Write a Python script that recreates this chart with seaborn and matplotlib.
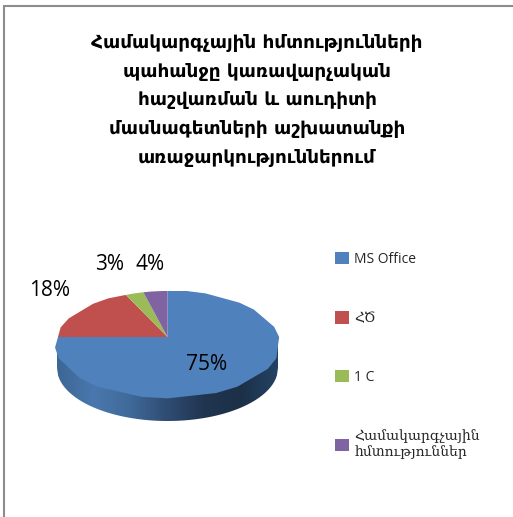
import numpy as np
import matplotlib
matplotlib.use('Agg')
import matplotlib.pyplot as plt
from matplotlib.lines import Line2D
from matplotlib.patches import Patch, Polygon
import seaborn as sns

# chart data
title_lines = ['Համակարգչային հմտությունների', 'պահանջը կառավարչական', 'հաշվառման և աուդիտի',
               'մասնագետների աշխատանքի', 'առաջարկություններում']
categories = ['MS Office', 'ՀԾ', '1 C', 'Համակարգչային\nհմտություններ']
shares = [75, 18, 3, 4]
colors = ['#4f81bd', '#c0504d', '#9bbb59', '#8064a2']
rim_colors = ['#3c6694', '#4a78ae', '#3f6998', '#2f4c72', '#20354f', '#1c3048', '#234264']

# pie geometry in pixels
CX, RX = 167.5, 110.5
APEX_Y, UP, DOWN = 337, 46, 60
DEPTH = 24

sns.set_theme(style='white')
plt.rcParams['font.family'] = ['Open Sans', 'DejaVu Sans']

fig = plt.figure(figsize=(5.13, 5.17), dpi=100)
ax = fig.add_axes([0, 0, 1, 1])

# pie gives the wedge shapes, they get tilted afterwards
palette = sns.color_palette(colors)
wedges, _ = ax.pie(shares, colors=palette, startangle=90, counterclock=False)

k = (DOWN - UP) / (DOWN + UP)
a = UP * (1 + k)
scale_x = RX * np.sqrt(1 - k ** 2)


def tilt(u, v):
    w = 1 + k * v
    return CX + scale_x * u / w, APEX_Y - a * v / w


for wedge in wedges:
    verts = wedge.get_patch_transform().transform_path(wedge.get_path()).interpolated(10).vertices
    x, y = tilt(verts[:, 0], verts[:, 1])
    wedge.set_visible(False)
    ax.add_patch(Polygon(np.column_stack([x, y]), closed=True, fc=wedge.get_facecolor(), ec='none', zorder=3))

# side wall of the pie
ell_y = APEX_Y + (DOWN - UP) / 2
ell_b = (UP + DOWN) / 2
t = np.linspace(-1, 1, 200)
front = ell_y + ell_b * np.sqrt(1 - t ** 2)
rim_xy = np.column_stack([np.r_[CX + RX * t, CX + RX * t[::-1]],
                          np.r_[front - 4, (front + DEPTH)[::-1]]])
rim_cmap = sns.blend_palette(rim_colors, as_cmap=True)
img = ax.imshow(np.linspace(0, 1, 256).reshape(1, -1), cmap=rim_cmap, aspect='auto', zorder=2,
                extent=[CX - RX, CX + RX, ell_y + ell_b + DEPTH, ell_y - 10])
clip = Polygon(rim_xy, closed=True, transform=ax.transData)
img.set_clip_path(clip)

ax.set_xlim(0, 513)
ax.set_ylim(517, 0)
ax.set_aspect('auto')
ax.axis('off')

# title
for i, line in enumerate(title_lines):
    ax.text(257, 43 + i * 28.7, line, ha='center', va='center', fontsize=13.2, fontweight='bold',
            family='DejaVu Sans', color='black')

# percent labels
label_pos = [(207, 364), (50, 290), (110, 264), (150, 264)]
for share, pos in zip(shares, label_pos):
    ax.text(pos[0], pos[1], f'{share}%', ha='center', va='center', fontsize=15, color='black', zorder=5)

# legend
handles = [Patch(fc=c, ec='none') for c in palette]
leg = ax.legend(handles, categories, loc='upper left', bbox_to_anchor=(335 / 513, 1 - 252 / 517),
                frameon=False, fontsize=10, handlelength=1.0, handleheight=1.0, handletextpad=0.4,
                labelspacing=3.2, borderpad=0, borderaxespad=0)
for txt in leg.get_texts()[1:2]:
    txt.set_fontfamily(['DejaVu Serif'])
leg.get_texts()[3].set_fontfamily(['DejaVu Serif'])

# chart frame, only top and left show in the crop
frame = '#8c8c8c'
fig.add_artist(Line2D([4 / 513, 4 / 513], [0, 1 - 6 / 517], color=frame, lw=1.5))
fig.add_artist(Line2D([4 / 513, 1], [1 - 6 / 517, 1 - 6 / 517], color=frame, lw=1.5))

fig.savefig('out.png', dpi=100)
